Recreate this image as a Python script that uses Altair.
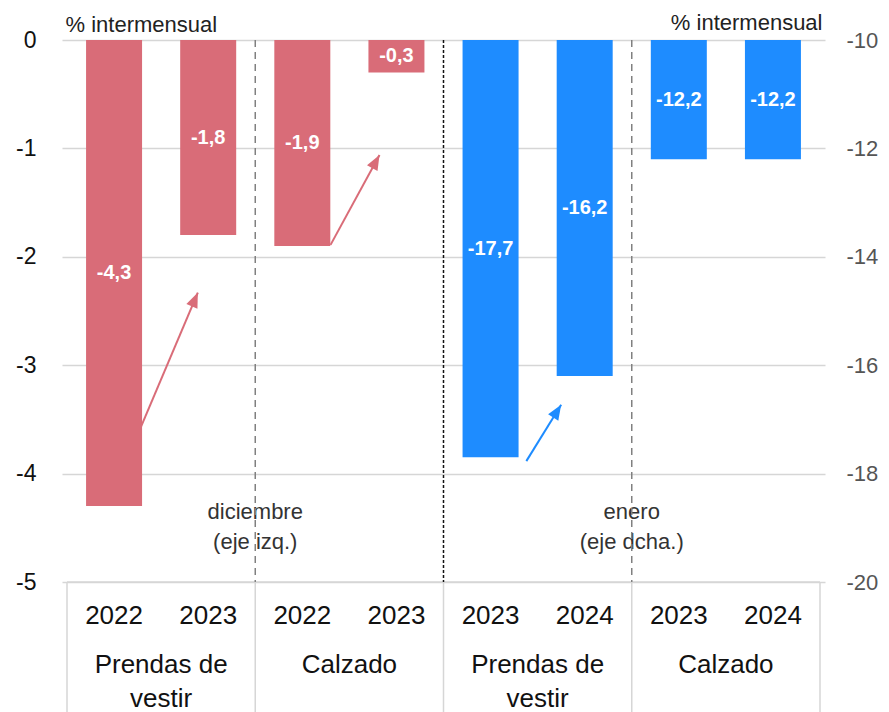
import math
import altair as alt
import pandas as pd

# ---------------- data ----------------
years = ["2022", "2023", "2022", "2023", "2023", "2024", "2023", "2024"]
group_labels = ["Prendas de\nvestir", "Calzado", "Prendas de\nvestir", "Calzado"]
dic_values = [-4.3, -1.8, -1.9, -0.3]        # diciembre (eje izq.)
ene_values = [-17.7, -16.2, -12.2, -12.2]    # enero (eje dcha.)
left_ticks = [0, -1, -2, -3, -4, -5]
right_ticks = [-10, -12, -14, -16, -18, -20]
period_labels = ["diciembre\n(eje izq.)", "enero\n(eje dcha.)"]
axis_title = "% intermensual"

# annotation arrows (x in bar slots, y in the units of their axis)
red_arrow_x = [0.78, 2.80]
red_arrow_y = [-3.58, -1.89]
red_arrow_x2 = [1.39, 3.32]
red_arrow_y2 = [-2.33, -1.06]
blue_arrow_x = [4.88]
blue_arrow_y = [-17.77]
blue_arrow_x2 = [5.25]
blue_arrow_y2 = [-16.73]

# ---------------- styling ----------------
W, H = 763, 542
RED = "#D96C78"
BLUE = "#1E8CFF"
FONT = "Liberation Sans, Arial, Helvetica, sans-serif"
GRID = "#d6d6d6"
XU = W / 8.0
YU_L = H / 5.0
YU_R = H / 10.0
HEAD = "M0,0L-0.6,1.5L0.6,1.5Z"

xs = alt.Scale(domain=[0, 8], nice=False, zero=False)
yl = alt.Scale(domain=[-5, 0], nice=False, zero=False)
yr = alt.Scale(domain=[-20, -10], nice=False, zero=False)


def X(field):
    return alt.X(field, type="quantitative", scale=xs, axis=None)


def heading(x, y, x2, y2, yu):
    return math.degrees(math.atan2((x2 - x) * XU, (y2 - y) * yu))


n_dic = len(dic_values)
red_df = pd.DataFrame({"pos": [i + 0.5 for i in range(n_dic)], "v": dic_values})
blue_df = pd.DataFrame({"pos": [n_dic + i + 0.5 for i in range(len(ene_values))], "v": ene_values})
year_df = pd.DataFrame({"pos": [i + 0.5 for i in range(len(years))], "year": years})
group_df = pd.DataFrame({"pos": [2 * i + 1 for i in range(len(group_labels))], "g": group_labels})
bounds_df = pd.DataFrame({"b": [2 * i for i in range(len(group_labels) + 1)]})
dash_df = pd.DataFrame({"b": [2, 6]})
mid_df = pd.DataFrame({"b": [4]})
period_df = pd.DataFrame({"pos": [2, 6], "t": period_labels})
red_arr = pd.DataFrame({"x": red_arrow_x, "y": red_arrow_y, "x2": red_arrow_x2, "y2": red_arrow_y2})
red_arr["ang"] = [heading(a, b, c, d, YU_L) for a, b, c, d in zip(red_arrow_x, red_arrow_y, red_arrow_x2, red_arrow_y2)]
blue_arr = pd.DataFrame({"x": blue_arrow_x, "y": blue_arrow_y, "x2": blue_arrow_x2, "y2": blue_arrow_y2})
blue_arr["ang"] = [heading(a, b, c, d, YU_R) for a, b, c, d in zip(blue_arrow_x, blue_arrow_y, blue_arrow_x2, blue_arrow_y2)]

left_axis = alt.Axis(
    orient="left", values=left_ticks, labelExpr="toString(datum.value)", grid=True, gridColor=GRID,
    gridWidth=1.5, domain=False, ticks=False, labelFontSize=23, labelColor="#111", labelPadding=26,
    labelFont=FONT, title=axis_title, titleAngle=0, titleAlign="left", titleBaseline="alphabetic",
    titleX=3, titleY=-9, titleFontSize=22, titleFontWeight="normal", titleColor="#222", titleFont=FONT,
)
right_axis = alt.Axis(
    orient="right", values=right_ticks, labelExpr="toString(datum.value)", grid=False,
    domain=False, ticks=False, labelFontSize=22, labelColor="#555", labelPadding=21, labelFont=FONT,
    title=axis_title, titleAngle=0, titleAlign="right", titleBaseline="alphabetic", titleX=-3, titleY=-11,
    titleFontSize=22, titleFontWeight="normal", titleColor="#222", titleFont=FONT,
)


def YL(field=None, datum=None):
    if datum is not None:
        return alt.Y(datum=datum, type="quantitative", scale=yl, axis=None)
    return alt.Y(field, type="quantitative", scale=yl, axis=None)


def YR(field):
    return alt.Y(field, type="quantitative", scale=yr, axis=None)


# ---------------- marks ----------------
box_top = alt.Chart(bounds_df).transform_aggregate(lo="min(b)", hi="max(b)").mark_rule(
    color=GRID, strokeWidth=1.5
).encode(x=X("lo"), x2="hi:Q", y=YL(datum=-5))
box_sides = alt.Chart(bounds_df).mark_rule(color=GRID, strokeWidth=1.5).encode(
    x=X("b"), y=alt.value(H), y2=alt.value(H + 140)
)
red_bars = alt.Chart(red_df).mark_bar(color=RED, size=56).encode(
    x=X("pos"), y=alt.Y("v:Q", scale=yl, axis=left_axis), y2=alt.Y2(datum=0)
)
red_text = alt.Chart(red_df).transform_calculate(
    mid="datum.v / 2", lab="replace(toString(datum.v), '.', ',')"
).mark_text(color="white", fontWeight="bold", fontSize=20, font=FONT, baseline="middle").encode(
    x=X("pos"), y=YL("mid"), text="lab:N"
)
blue_bars = alt.Chart(blue_df).mark_bar(color=BLUE, size=56).encode(
    x=X("pos"), y=alt.Y("v:Q", scale=yr, axis=right_axis), y2=alt.Y2(datum=-10)
)
blue_text = alt.Chart(blue_df).transform_calculate(
    mid="(datum.v - 10) / 2", lab="replace(toString(datum.v), '.', ',')"
).mark_text(color="white", fontWeight="bold", fontSize=20, font=FONT, baseline="middle").encode(
    x=X("pos"), y=YR("mid"), text="lab:N"
)
period_text = alt.Chart(period_df).mark_text(
    fontSize=22, font=FONT, color="#333", baseline="middle", lineBreak="\n", lineHeight=30
).encode(x=X("pos"), y=YL(datum=-4.35), text="t:N")
dash_rules = alt.Chart(dash_df).mark_rule(color="#808080", strokeWidth=1.5, strokeDash=[7, 5]).encode(
    x=X("b"), y=YL(datum=0), y2=alt.Y2(datum=-5)
)
mid_rule = alt.Chart(mid_df).mark_rule(color="#111", strokeWidth=1.5, strokeDash=[3, 2]).encode(
    x=X("b"), y=YL(datum=0), y2=alt.Y2(datum=-5)
)
year_text = alt.Chart(year_df).mark_text(fontSize=26, font=FONT, color="#111", baseline="middle").encode(
    x=X("pos"), y=alt.value(H + 34), text="year:N"
)
group_text = alt.Chart(group_df).mark_text(
    fontSize=26, font=FONT, color="#111", baseline="alphabetic", lineBreak="\n", lineHeight=34
).encode(x=X("pos"), y=alt.value(H + 91), text="g:N")
red_arrow_lines = alt.Chart(red_arr).mark_rule(color=RED, strokeWidth=2).encode(
    x=X("x"), y=YL("y"), x2="x2:Q", y2="y2:Q"
)
red_heads = alt.Chart(red_arr).mark_point(
    shape=HEAD, size=400, filled=True, color=RED, opacity=1, strokeWidth=0
).encode(x=X("x2"), y=YL("y2"), angle=alt.Angle("ang:Q", scale=None))
blue_arrow_lines = alt.Chart(blue_arr).mark_rule(color=BLUE, strokeWidth=2).encode(
    x=X("x"), y=YR("y"), x2="x2:Q", y2="y2:Q"
)
blue_heads = alt.Chart(blue_arr).mark_point(
    shape=HEAD, size=400, filled=True, color=BLUE, opacity=1, strokeWidth=0
).encode(x=X("x2"), y=YR("y2"), angle=alt.Angle("ang:Q", scale=None))

chart = alt.layer(
    red_bars, blue_bars, box_top, box_sides, red_text, blue_text, period_text, dash_rules, mid_rule,
    year_text, group_text, red_arrow_lines, red_heads, blue_arrow_lines, blue_heads,
).resolve_scale(y="independent").resolve_axis(y="independent").properties(
    width=W, height=H,
    autosize=alt.AutoSizeParams(type="none"),
    padding={"left": 54, "top": 32, "right": 56, "bottom": 130},
    background="white",
).configure_view(stroke=None)

chart.save("out.html", embed_options={"renderer": "svg", "actions": False})
